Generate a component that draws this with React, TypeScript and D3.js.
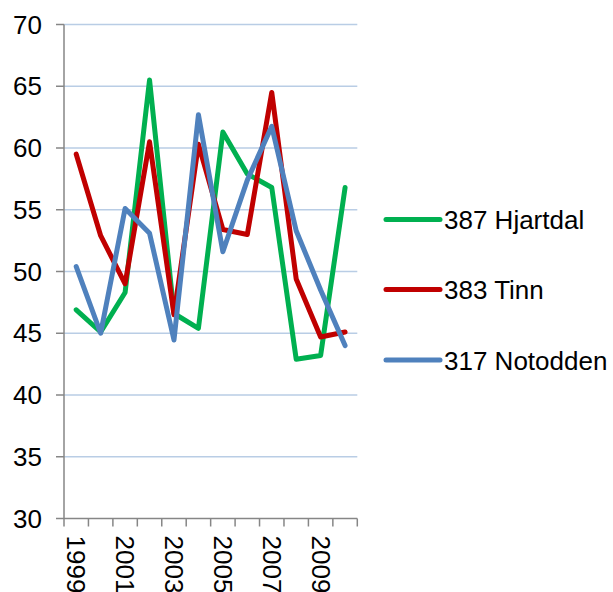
import React from "react";
import * as d3 from "d3";

const years = ["1999","2000","2001","2002","2003","2004","2005","2006","2007","2008","2009","2010"];
const hjartdal = [46.9, 45.1, 48.3, 65.5, 46.6, 45.4, 61.3, 57.9, 56.8, 42.9, 43.2, 56.8];
const tinn = [59.5, 52.9, 49.0, 60.5, 46.5, 60.3, 53.4, 53.0, 64.5, 49.4, 44.7, 45.1];
const notodden = [50.4, 45.0, 55.1, 53.1, 44.45, 62.7, 51.6, 57.4, 61.75, 53.3, 48.5, 44.0];
const seriesNames = ["387 Hjartdal", "383 Tinn", "317 Notodden"];
const seriesColors = ["#00B050", "#C00000", "#4F81BD"];
const yTicks = [30, 35, 40, 45, 50, 55, 60, 65, 70];

export default function App() {
  const W = 613, H = 592;
  const left = 64, right = 357.3, top = 24.5, bottom = 518.5;
  const x = d3.scaleBand<string>().domain(years).range([left, right]).padding(0);
  const y = d3.scaleLinear().domain([30, 70]).range([bottom, top]);
  const all = [hjartdal, tinn, notodden];
  const line = d3.line<number>()
    .x((_, i) => (x(years[i]) as number) + x.bandwidth() / 2)
    .y(d => y(d));
  const font = "'Liberation Sans', Arial, sans-serif";
  const boundaries = d3.range(years.length + 1).map(i => left + i * x.step());
  const legendY = [219.5, 289.5, 360];

  return (
    <svg width={W} height={H} style={{ position: "absolute", left: 0, top: 0, background: "#fff" }} fontFamily={font}>
      {yTicks.slice(1).map(t => (
        <line key={"g" + t} x1={left} x2={right} y1={y(t)} y2={y(t)} stroke="#B9CDE5" strokeWidth={1.5} />
      ))}
      <line x1={left} x2={left} y1={top} y2={bottom} stroke="#868686" strokeWidth={1.5} />
      <line x1={left} x2={right} y1={bottom} y2={bottom} stroke="#868686" strokeWidth={1.5} />
      {yTicks.map(t => (
        <g key={"yt" + t}>
          <line x1={left - 8} x2={left} y1={y(t)} y2={y(t)} stroke="#868686" strokeWidth={1.5} />
          <text x={42} y={y(t)} textAnchor="end" dominantBaseline="central" fontSize={26} fill="#000">{t}</text>
        </g>
      ))}
      {boundaries.map((b, i) => (
        <line key={"xt" + i} x1={b} x2={b} y1={bottom} y2={bottom + 8} stroke="#868686" strokeWidth={1.5} />
      ))}
      {years.map((yr, i) => i % 2 === 0 ? (
        <text key={"xl" + yr}
          transform={`translate(${(x(yr) as number) + x.bandwidth() / 2},${bottom + 17}) rotate(90)`}
          textAnchor="start" dominantBaseline="central" fontSize={26} fill="#000">{yr}</text>
      ) : null)}
      {all.map((s, k) => (
        <path key={"s" + k} d={line(s) || ""} fill="none" stroke={seriesColors[k]} strokeWidth={5} strokeLinejoin="round" strokeLinecap="round" />
      ))}
      {seriesNames.map((n, k) => (
        <g key={"lg" + k}>
          <line x1={386} x2={440} y1={legendY[k]} y2={legendY[k]} stroke={seriesColors[k]} strokeWidth={5} strokeLinecap="round" />
          <text x={444} y={legendY[k] + 9.5} fontSize={26} fill="#000">{n}</text>
        </g>
      ))}
    </svg>
  );
}
